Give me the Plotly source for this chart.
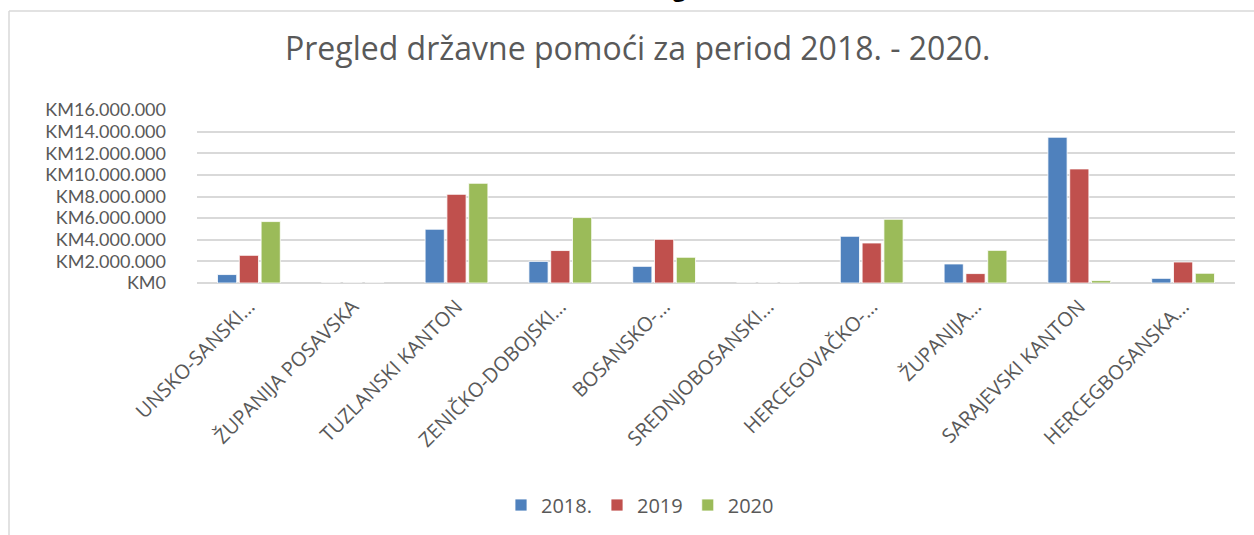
import plotly.graph_objects as go

categories = ["UNSKO-SANSKI…", "ŽUPANIJA POSAVSKA", "TUZLANSKI KANTON", "ZENIČKO-DOBOJSKI…",
              "BOSANSKO-…", "SREDNJOBOSANSKI…", "HERCEGOVAČKO-…", "ŽUPANIJA…",
              "SARAJEVSKI KANTON", "HERCEGBOSANSKA…"]
series_names = ["2018.", "2019", "2020"]
v2018 = [780000, 0, 4970000, 2000000, 1540000, 0, 4320000, 1760000, 13480000, 430000]
v2019 = [2560000, 0, 8200000, 3000000, 4040000, 0, 3700000, 870000, 10550000, 1940000]
v2020 = [5680000, 0, 9220000, 6050000, 2380000, 0, 5890000, 3020000, 220000, 900000]
tick_values = [0, 2000000, 4000000, 6000000, 8000000, 10000000, 12000000, 14000000, 16000000]
tick_labels = ["KM0", "KM2.000.000", "KM4.000.000", "KM6.000.000", "KM8.000.000",
               "KM10.000.000", "KM12.000.000", "KM14.000.000", "KM16.000.000"]
colors = ["#4F81BD", "#C0504D", "#9BBB59"]
title_text = "Pregled državne pomoći za period 2018. - 2020."

FONT = "Open Sans"
GRAY = "#595959"

fig = go.Figure()
for name, vals, col in zip(series_names, [v2018, v2019, v2020], colors):
    fig.add_trace(go.Bar(x=categories, y=vals, name=name,
                         marker=dict(color=col, line=dict(color="white", width=0.8))))

W, H = 1254, 535
L, R, T, B = 197, 19, 110, 252
pw, ph = W - L - R, H - T - B

def px_x(p):
    return (p - L) / pw

def px_y(p):
    return (H - B - p) / ph

fig.update_layout(
    width=W, height=H,
    margin=dict(l=L, r=R, t=T, b=B, autoexpand=False),
    paper_bgcolor="white", plot_bgcolor="white",
    barmode="group", bargap=0.37, bargroupgap=0.12,
    font=dict(family=FONT, color=GRAY, size=20),
    showlegend=True,
    legend=dict(orientation="h", x=px_x(640), xanchor="center", y=px_y(505), yanchor="middle",
                font=dict(size=20, color=GRAY), traceorder="normal", itemwidth=30),
    xaxis=dict(tickangle=-45, showgrid=False, showline=False, ticks="",
               tickfont=dict(size=20, color=GRAY, family=FONT), ticklabelstandoff=7),
    yaxis=dict(range=[0, 16000000], tickvals=tick_values, ticktext=tick_labels,
               showgrid=True, gridcolor="#D9D9D9", gridwidth=1.5, zeroline=True,
               zerolinecolor="#D9D9D9", zerolinewidth=1.5, showline=False, ticks="",
               tickfont=dict(size=18, color=GRAY, family="Lato"), ticklabelstandoff=30),
    shapes=[
        dict(type="line", xref="paper", yref="paper", x0=px_x(9), x1=px_x(1260),
             y0=px_y(11), y1=px_y(11), line=dict(color="#D9D9D9", width=1.5)),
        dict(type="line", xref="paper", yref="paper", x0=px_x(9), x1=px_x(9),
             y0=px_y(11), y1=px_y(540), line=dict(color="#D9D9D9", width=1.5)),
    ],
    annotations=[
        dict(text=title_text, xref="paper", yref="paper", x=px_x(637), y=px_y(47),
             xanchor="center", yanchor="middle", showarrow=False,
             font=dict(size=32, color=GRAY, family=FONT)),
        dict(text="<b>g</b>", xref="paper", yref="paper", x=px_x(679), y=px_y(5),
             xanchor="center", yanchor="bottom", showarrow=False,
             font=dict(size=22, color="black", family=FONT)),
    ],
)

fig.write_html("out.html", config={"displayModeBar": False},
               post_script="document.body.style.margin='0';")
